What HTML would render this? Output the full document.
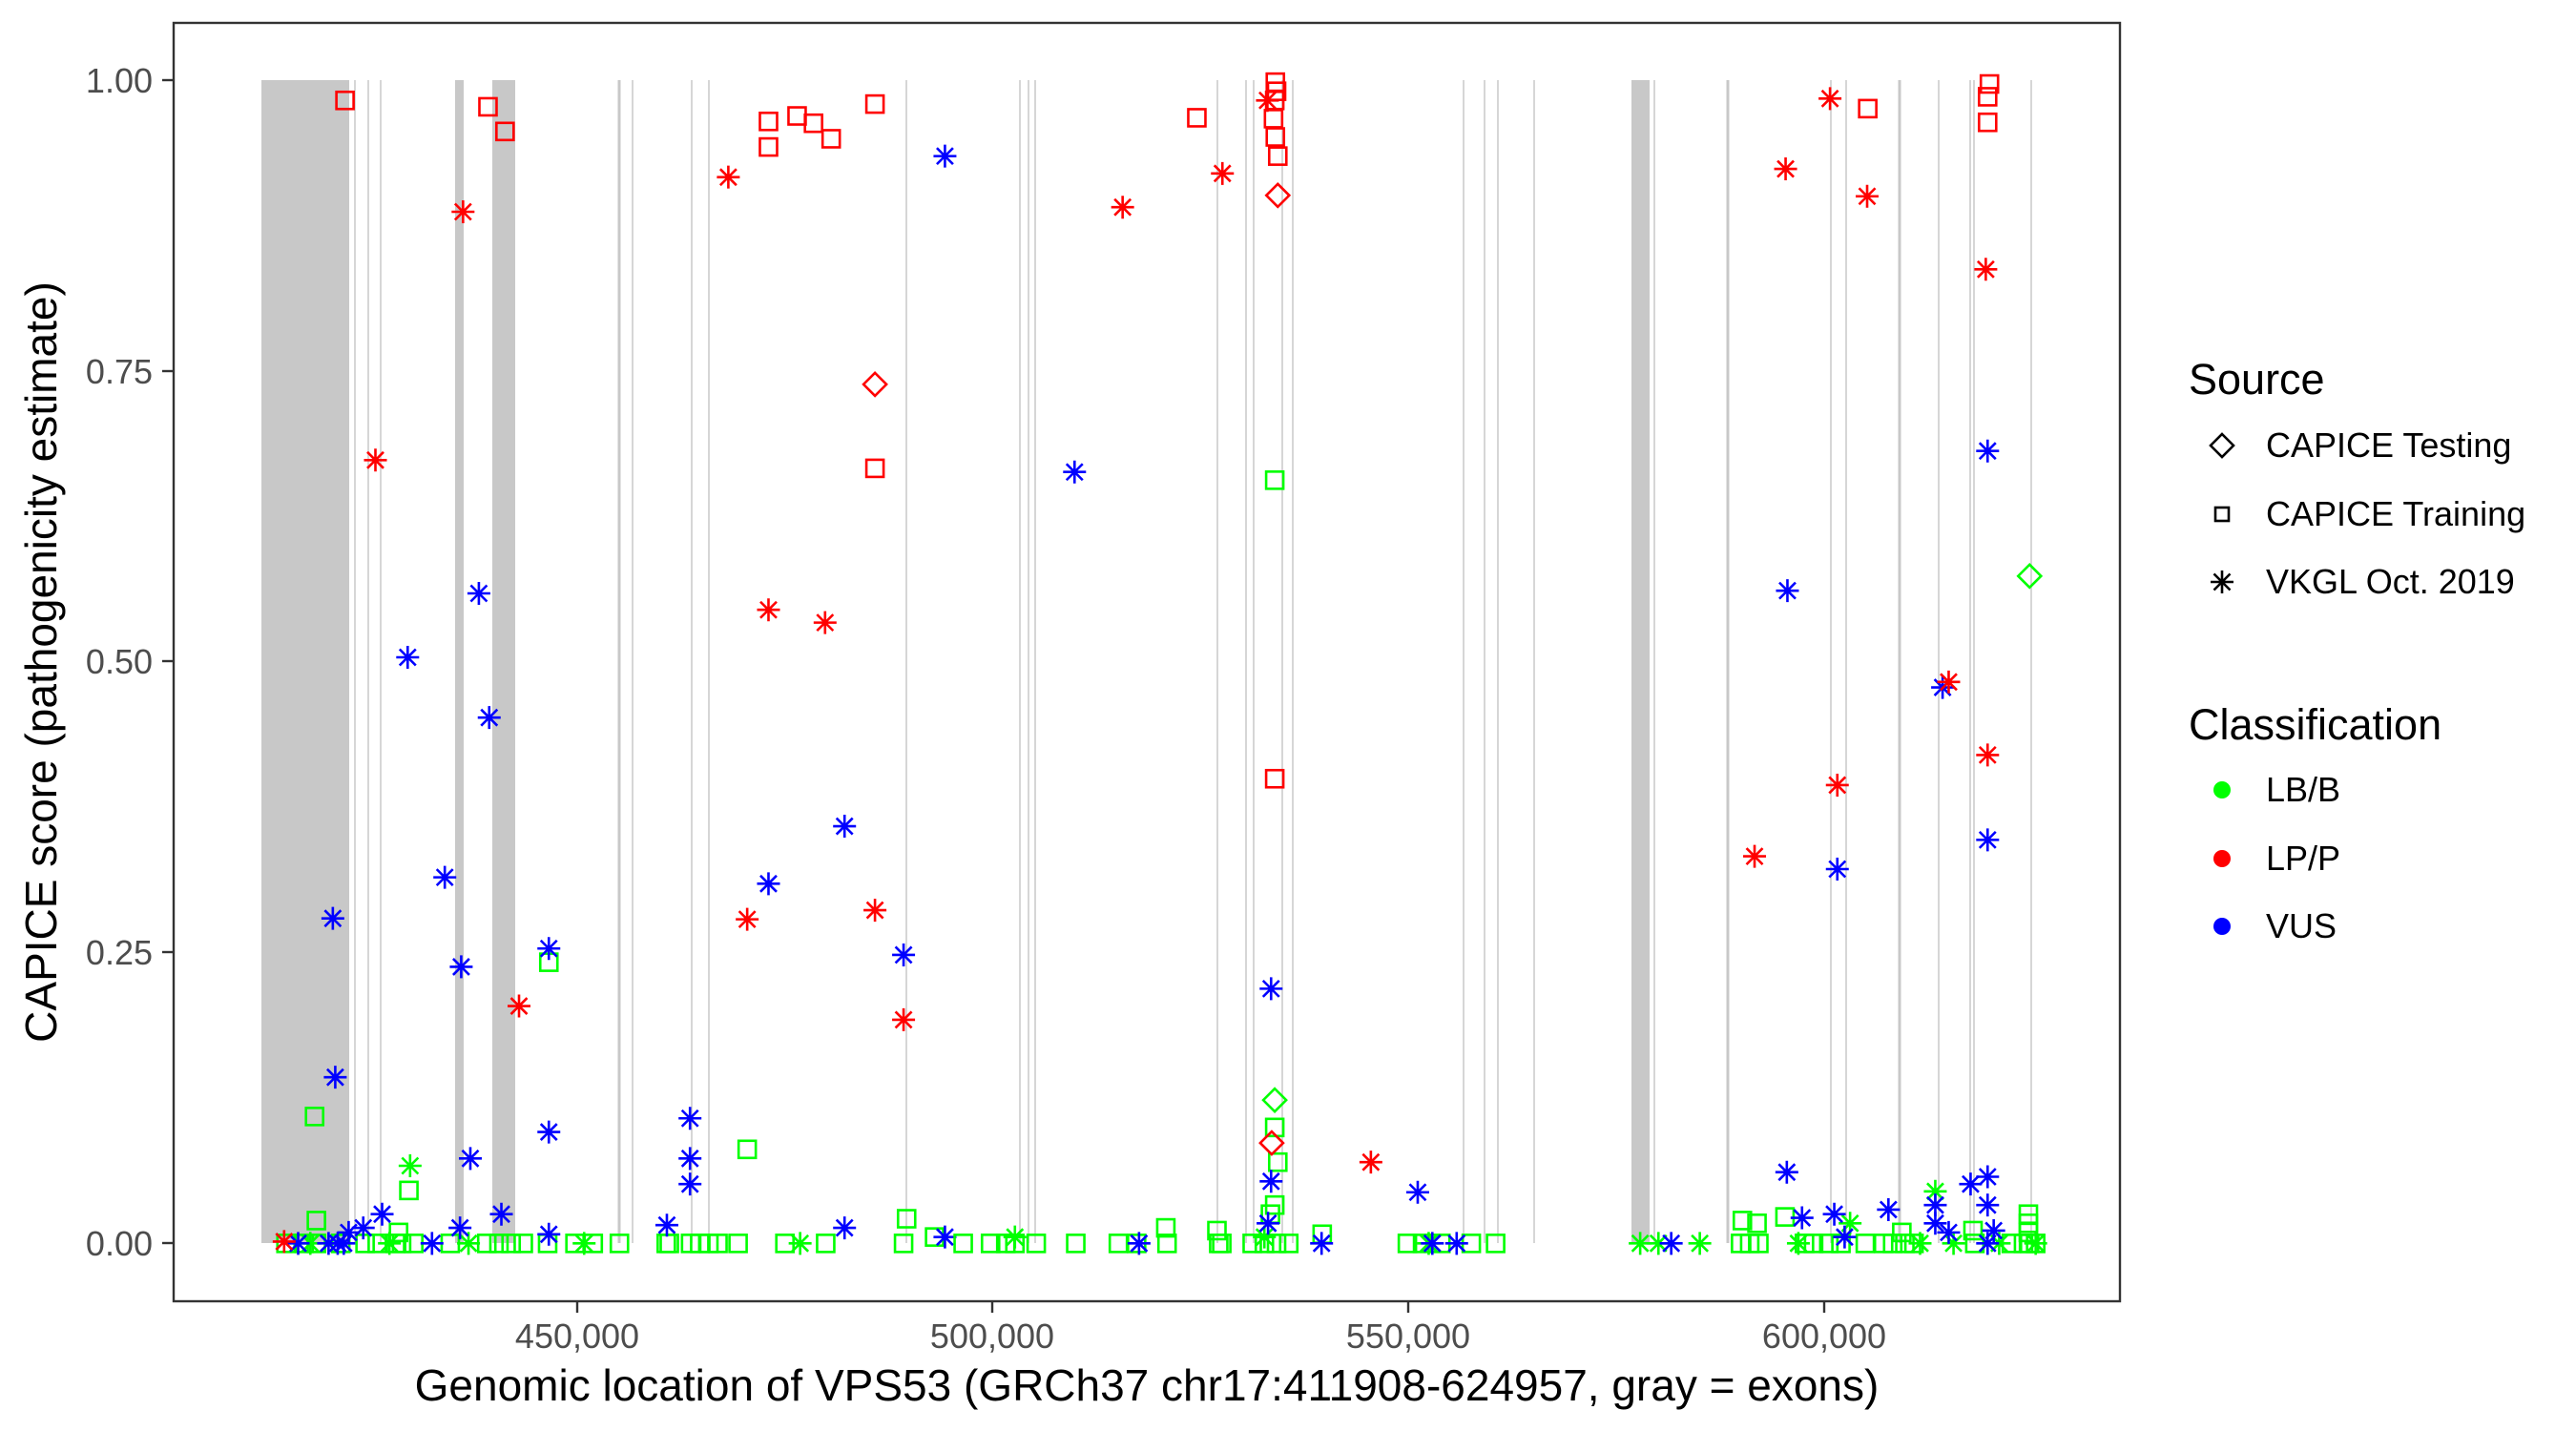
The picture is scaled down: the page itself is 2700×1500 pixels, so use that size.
<!DOCTYPE html>
<html><head><meta charset="utf-8"><style>
html,body{margin:0;padding:0;background:#fff;}
svg{display:block;font-family:"Liberation Sans",Arial,sans-serif;}
</style></head><body>
<svg id="s" width="2700" height="1500" viewBox="0 0 2700 1500" xmlns="http://www.w3.org/2000/svg">
<rect x="0" y="0" width="2700" height="1500" fill="#fff"/>
<g id="exons" fill="#c8c8c8" stroke="none"></g>
<g id="pts" fill="none" stroke-width="2.6"></g>
<rect x="182" y="24" width="2040" height="1340" fill="none" stroke="#333" stroke-width="2.4"/>
<g stroke="#333" stroke-width="2.4">
<line x1="170" y1="84" x2="182" y2="84"/><line x1="170" y1="389" x2="182" y2="389"/>
<line x1="170" y1="693" x2="182" y2="693"/><line x1="170" y1="998" x2="182" y2="998"/>
<line x1="170" y1="1303" x2="182" y2="1303"/>
<line x1="605" y1="1364" x2="605" y2="1376"/><line x1="1040" y1="1364" x2="1040" y2="1376"/>
<line x1="1476" y1="1364" x2="1476" y2="1376"/><line x1="1912" y1="1364" x2="1912" y2="1376"/>
</g>
<g fill="#4d4d4d" font-size="36" text-anchor="end">
<text x="160" y="97">1.00</text><text x="160" y="402">0.75</text><text x="160" y="706">0.50</text>
<text x="160" y="1011">0.25</text><text x="160" y="1316">0.00</text>
</g>
<g fill="#4d4d4d" font-size="36" text-anchor="middle">
<text x="605" y="1413">450,000</text><text x="1040" y="1413">500,000</text>
<text x="1476" y="1413">550,000</text><text x="1912" y="1413">600,000</text>
</g>
<text x="1202" y="1468" font-size="46" text-anchor="middle" fill="#000">Genomic location of VPS53 (GRCh37 chr17:411908-624957, gray = exons)</text>
<text transform="translate(59,694) rotate(-90)" font-size="46" text-anchor="middle" fill="#000">CAPICE score (pathogenicity estimate)</text>
<text x="2294" y="413" font-size="45" fill="#000">Source</text>
<text x="2375" y="479" font-size="36" fill="#000">CAPICE Testing</text>
<text x="2375" y="551" font-size="36" fill="#000">CAPICE Training</text>
<text x="2375" y="622" font-size="36" fill="#000">VKGL Oct. 2019</text>
<text x="2294" y="775" font-size="45" fill="#000">Classification</text>
<text x="2375" y="840" font-size="36" fill="#000">LB/B</text>
<text x="2375" y="912" font-size="36" fill="#000">LP/P</text>
<text x="2375" y="983" font-size="36" fill="#000">VUS</text>
<g id="leg" fill="none" stroke="#000" stroke-width="2.6"></g>
<circle cx="2329" cy="828" r="9" fill="#00ff00"/>
<circle cx="2329" cy="900" r="9" fill="#ff0000"/>
<circle cx="2329" cy="971" r="9" fill="#0000ff"/>
</svg>
<script>
var NS="http://www.w3.org/2000/svg";
function el(p,t,a){var e=document.createElementNS(NS,t);for(var k in a)e.setAttribute(k,a[k]);p.appendChild(e);return e;}
var ex=document.getElementById('exons');
[[274,366],[477,486],[516,540],[1710,1729]].forEach(function(b){el(ex,'rect',{x:b[0],y:84,width:b[1]-b[0],height:1219});});
[[372,1.5],[386,1.5],[399,1.5],[649,3],[663,1.5],[725,1.5],[743,1.5],[950,1.5],[1069,1.5],[1078,1.5],[1085,1.5],[1276,1.5],[1306,1.5],[1314,1.5],[1344,1.5],[1355,1.5],[1534,1.5],[1556,1.5],[1570,1.5],[1608,1.5],[1734,1.5],[1811,3],[1919,1.5],[1935,1.5],[1991,3],[2032,1.5],[2065,1.5],[2069,1.5],[2129,1.5]].forEach(function(l){el(ex,'rect',{x:l[0]-l[1]/2,y:84,width:l[1],height:1219});});
var C={g:'#00ff00',r:'#ff0000',b:'#0000ff'};
var P=document.getElementById('pts');
function mk(g,shape,X,Y,col){
 if(shape=='s'){el(g,'rect',{x:X-9,y:Y-9,width:18,height:18,stroke:col});}
 else if(shape=='d'){el(g,'path',{d:'M'+X+' '+(Y-12)+'L'+(X+12)+' '+Y+'L'+X+' '+(Y+12)+'L'+(X-12)+' '+Y+'Z',stroke:col});}
 else {var r=12,q=8.5;el(g,'path',{d:'M'+(X-r)+' '+Y+'H'+(X+r)+'M'+X+' '+(Y-r)+'V'+(Y+r)+'M'+(X-q)+' '+(Y-q)+'L'+(X+q)+' '+(Y+q)+'M'+(X-q)+' '+(Y+q)+'L'+(X+q)+' '+(Y-q),stroke:col});}
}
function add(off,col,shape,list){list.forEach(function(p){mk(P,shape,off+p[0]/1.568,p[1]/1.045,C[col]);});}
function row(off,col,shape,xs,y){add(off,col,shape,xs.map(function(x){return [x,y];}));}
add(0,'g','s',[[517,1223],[672,1304],[902,1054],[520,1337],[1228,1259],[1490,1335],[1536,1355],[655,1350]]);
row(0,'g','s',[470,500,520,560,600,620,650,660,680,740,800,820,840,860,900,945,975,1018,1095,1100,1135,1150,1165,1180,1213,1290,1357,1485],1362);
add(0,'g','*',[[674,1277]]);row(0,'g','*',[510,640,770,960,1315],1362);
add(0,'b','*',[[1553,171],[787,650],[670,720],[804,786],[547,1006],[731,961],[758,1059],[1263,968],[1388,905],[1485,1046],[902,1039],[551,1180],[902,1240],[773,1269],[1134,1225],[1134,1269],[1134,1297],[1096,1342],[824,1330],[628,1330],[597,1345],[573,1350],[756,1345],[902,1352],[1388,1345],[1553,1355],[540,1362],[555,1362],[565,1362],[710,1362],[490,1362]]);
add(0,'r','s',[[567,110],[802,117],[830,144],[1263,133],[1263,161],[1310,127],[1337,135],[1366,152],[1438,114],[1438,513]]);
add(0,'r','*',[[761,232],[617,504],[1197,194],[1263,668],[1356,682],[1228,1007],[1438,997],[1485,1117],[853,1102],[467,1360]]);
add(0,'r','d',[[1438,421]]);
add(1000,'g','s',[[527,526],[527,1235],[532,1273],[527,1320],[520,1330],[348,1345],[432,1348],[605,1352]]);
row(1000,'g','s',[15,60,85,100,135,200,270,300,350,435,440,490,510,530,550,745,770,800,850,890],1362);
add(1000,'g','d',[[527,1205]]);
add(1000,'g','*',[[100,1355],[510,1355],[780,1362]]);
add(1000,'b','*',[[198,517],[521,1083],[521,1294],[516,1340],[762,1306],[304,1362],[604,1362],[786,1362],[826,1362]]);
add(1000,'r','s',[[399,129],[528,90],[530,100],[527,110],[525,130],[528,150],[532,171],[527,853]]);
add(1000,'r','*',[[277,227],[441,190],[515,110],[685,1273]]);
add(1000,'r','d',[[532,214],[522,1252]]);
add(1700,'g','s',[[198,1337],[222,1340],[268,1333],[460,1350],[577,1348],[668,1330],[668,1340],[668,1350]]);
row(1700,'g','s',[195,210,225,300,315,340,360,400,430,445,465,480,580,640,660,670,680],1362);
add(1700,'g','*',[[515,1305],[375,1340],[30,1362],[60,1362],[128,1362],[290,1362],[545,1362],[490,1362],[620,1362],[680,1362]]);
add(1700,'g','d',[[670,631]]);
add(1700,'b','*',[[601,494],[272,647],[527,753],[601,920],[354,952],[271,1284],[296,1334],[349,1330],[438,1325],[515,1320],[573,1297],[601,1289],[601,1320],[515,1340],[537,1350],[366,1355],[601,1362],[611,1348],[81,1362]]);
add(1700,'r','s',[[604,92],[601,106],[601,134],[404,119]]);
add(1700,'r','*',[[342,108],[269,185],[403,215],[598,295],[537,747],[601,827],[354,860],[218,938]]);
var L=document.getElementById('leg');
mk(L,'d',2329,467,'#000');
el(L,'rect',{x:2322,y:532,width:14,height:14,stroke:'#000'});
mk(L,'*',2329,610,'#000');
</script>
</body></html>
